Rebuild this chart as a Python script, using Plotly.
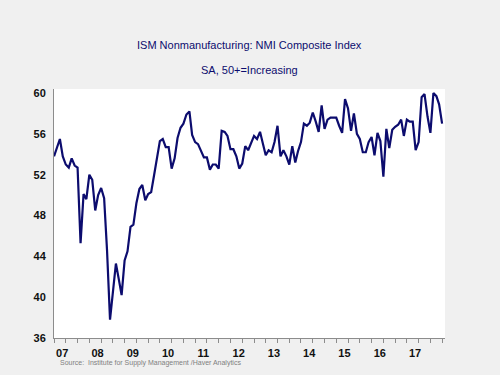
import pandas as pd
import plotly.graph_objects as go

# Monthly ISM NMI Composite Index, Apr 2007 - Apr 2018
start_month = "2007-04-01"
nmi_values = [
    53.8, 54.6, 55.5, 53.8, 53.0, 52.7, 53.6, 52.9, 52.7,            # Apr-Dec 2007
    45.3, 50.1, 49.6, 52.0, 51.5, 48.5, 50.0, 50.7, 49.7, 44.6, 37.8, 40.6,  # 2008
    43.3, 41.7, 40.2, 43.6, 44.5, 46.9, 47.1, 49.2, 50.6, 51.0, 49.5, 50.1,  # 2009
    50.3, 52.0, 53.8, 55.3, 55.5, 54.7, 54.7, 52.6, 53.6, 55.6, 56.6, 57.0,  # 2010
    57.9, 58.2, 55.9, 55.2, 55.0, 54.3, 53.7, 53.7, 52.5, 53.0, 53.0, 52.6,  # 2011
    56.3, 56.2, 55.8, 54.5, 54.5, 53.8, 52.6, 53.1, 54.8, 54.4, 55.1, 55.8,  # 2012
    55.5, 56.2, 55.1, 53.9, 54.4, 54.2, 55.2, 56.8, 53.8, 54.4, 53.8, 53.0,  # 2013
    54.8, 53.2, 54.3, 55.2, 57.0, 56.8, 57.1, 58.1, 57.2, 56.2, 58.8, 56.5,  # 2014
    57.4, 57.6, 57.6, 57.6, 56.8, 56.1, 59.4, 58.5, 56.3, 58.0, 56.0, 55.5,  # 2015
    54.2, 54.2, 55.2, 55.7, 53.9, 56.1, 55.3, 51.8, 56.5, 54.6, 56.4, 56.7,  # 2016
    56.9, 57.4, 55.8, 57.4, 57.2, 57.2, 54.4, 55.2, 59.6, 59.9, 57.7, 56.1,  # 2017
    60.0, 59.7, 58.9, 57.0,                                                  # Jan-Apr 2018
]
dates = pd.date_range(start_month, periods=len(nmi_values), freq="MS")

year_tick_dates = [f"{y}-06-25" for y in range(2007, 2018)]
year_tick_labels = ["07", "08", "09", "10", "11", "12", "13", "14", "15", "16", "17"]
y_ticks = [36, 40, 44, 48, 52, 56, 60]

title_text = "ISM Nonmanufacturing: NMI Composite Index"
subtitle_text = "SA, 50+=Increasing"
source_text = "Source:  Institute for Supply Management /Haver Analytics"

navy = "#0c0c6e"

fig = go.Figure()
fig.add_trace(go.Scatter(
    x=dates, y=nmi_values, mode="lines",
    line=dict(color=navy, width=2.2),
    hoverinfo="skip", showlegend=False,
))

fig.update_layout(
    width=500, height=375,
    margin=dict(l=54, r=55, t=89, b=37),
    paper_bgcolor="#f0f0f0",
    plot_bgcolor="#ffffff",
    font=dict(family="Liberation Sans, Arial, sans-serif", color="#000000"),
    showlegend=False,
)

fig.update_xaxes(
    type="date",
    range=["2007-04-01", "2018-05-01"],
    tickmode="array",
    tickvals=year_tick_dates,
    ticktext=year_tick_labels,
    ticks="",
    tickfont=dict(size=11, color="#111111", weight="bold"),
    ticklabelstandoff=5,
    showgrid=False,
    showline=True, linecolor="#8c8c8c", linewidth=1,
    zeroline=False,
    minor=dict(ticks="outside", tick0="2007-04-01", dtick="M4",
               ticklen=4, tickcolor="#8c8c8c", tickwidth=1, showgrid=False),
)
fig.update_yaxes(
    range=[36, 60.4],
    tickmode="array",
    tickvals=y_ticks,
    ticks="",
    tickfont=dict(size=11, color="#111111", weight="bold"),
    ticklabelstandoff=5,
    showgrid=False,
    showline=True, linecolor="#8c8c8c", linewidth=1,
    zeroline=False,
)

fig.add_annotation(text=title_text, xref="paper", yref="paper",
                   x=0.5, y=1.177, xanchor="center", yanchor="middle",
                   showarrow=False, font=dict(size=11, color=navy))
fig.add_annotation(text=subtitle_text, xref="paper", yref="paper",
                   x=0.5, y=1.077, xanchor="center", yanchor="middle",
                   showarrow=False, font=dict(size=11, color=navy))
fig.add_annotation(text=source_text, xref="paper", yref="paper",
                   x=0.009, y=-0.100, xanchor="left", yanchor="middle",
                   showarrow=False, font=dict(size=7, color="#808080"))

fig.write_html("out.html",
               config={"displayModeBar": False},
               post_script="document.body.style.margin='0';document.body.style.background='#f0f0f0';")
